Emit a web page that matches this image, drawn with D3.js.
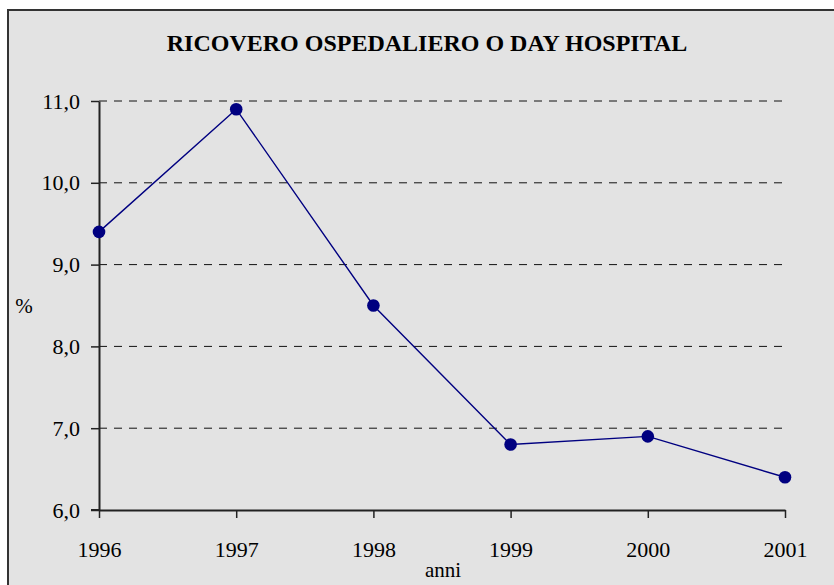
<!DOCTYPE html>
<html>
<head>
<meta charset="utf-8">
<script src="https://cdn.jsdelivr.net/npm/d3@7"></script>
<style>
  body { margin: 0; background: #fff; }
  svg text { font-family: "Liberation Serif", "Times New Roman", serif; fill: #000; }
</style>
</head>
<body>
<div id="chart"></div>
<script>
const years = ['1996', '1997', '1998', '1999', '2000', '2001'];
const values = [9.4, 10.9, 8.5, 6.8, 6.9, 6.4];
const yTicks = [6, 7, 8, 9, 10, 11];
const title = 'RICOVERO OSPEDALIERO O DAY HOSPITAL';

const width = 834, height = 585;
const margin = { top: 101, right: 49, bottom: 75, left: 99 };

const svg = d3.select('#chart').append('svg')
    .attr('width', width)
    .attr('height', height);

// chart area background + frame (right/bottom run off the picture)
svg.append('rect')
    .attr('x', 8).attr('y', 10)
    .attr('width', width).attr('height', height)
    .attr('fill', '#e3e3e3')
    .attr('stroke', '#333').attr('stroke-width', 2);

const x = d3.scalePoint()
    .domain(years)
    .range([margin.left, width - margin.right]);

const y = d3.scaleLinear()
    .domain([6, 11])
    .range([height - margin.bottom, margin.top]);

const fmt = d => d3.format('.1f')(d).replace('.', ',');

// gridlines
svg.append('g')
    .selectAll('line')
    .data(yTicks.filter(d => d > 6))
    .enter().append('line')
    .attr('x1', margin.left).attr('x2', width - margin.right)
    .attr('y1', d => y(d)).attr('y2', d => y(d))
    .attr('stroke', '#111')
    .attr('stroke-width', 1)
    .attr('stroke-dasharray', '8,7');

// y axis
const yAxis = svg.append('g')
    .attr('transform', 'translate(' + margin.left + ',0)')
    .call(d3.axisLeft(y).tickValues(yTicks).tickFormat(fmt).tickSize(8).tickSizeOuter(0).tickPadding(11));

// x axis
const xAxis = svg.append('g')
    .attr('transform', 'translate(0,' + (height - margin.bottom) + ')')
    .call(d3.axisBottom(x).tickSize(8).tickSizeOuter(0).tickPadding(23));

[yAxis, xAxis].forEach(a => {
  a.attr('font-family', null);
  a.select('.domain').attr('stroke', '#222').attr('stroke-width', 2);
  a.selectAll('.tick line').attr('stroke', '#222').attr('stroke-width', 1.5);
  a.selectAll('.tick text')
      .style('font-family', '"Liberation Serif", "Times New Roman", serif')
      .style('font-size', '22px')
      .attr('fill', '#000');
});
// extend x axis line to the left to meet the 6,0 tick
svg.append('line')
    .attr('x1', margin.left - 8).attr('x2', margin.left)
    .attr('y1', y(6)).attr('y2', y(6))
    .attr('stroke', '#222').attr('stroke-width', 2);

// line + markers
const line = d3.line()
    .x((d, i) => x(years[i]))
    .y(d => y(d));

svg.append('path')
    .datum(values)
    .attr('d', line)
    .attr('fill', 'none')
    .attr('stroke', '#000080')
    .attr('stroke-width', 1.4);

svg.append('g')
    .selectAll('circle')
    .data(values)
    .enter().append('circle')
    .attr('cx', (d, i) => x(years[i]))
    .attr('cy', d => y(d))
    .attr('r', 6.3)
    .attr('fill', '#000080');

// texts
svg.append('text')
    .attr('x', 427).attr('y', 51)
    .attr('text-anchor', 'middle')
    .style('font-size', '24px')
    .style('font-weight', 'bold')
    .text(title);

svg.append('text')
    .attr('x', 443).attr('y', 577)
    .attr('text-anchor', 'middle')
    .style('font-size', '21px')
    .text('anni');

svg.append('text')
    .attr('x', 24).attr('y', 313)
    .attr('text-anchor', 'middle')
    .style('font-size', '21px')
    .text('%');
</script>
</body>
</html>
